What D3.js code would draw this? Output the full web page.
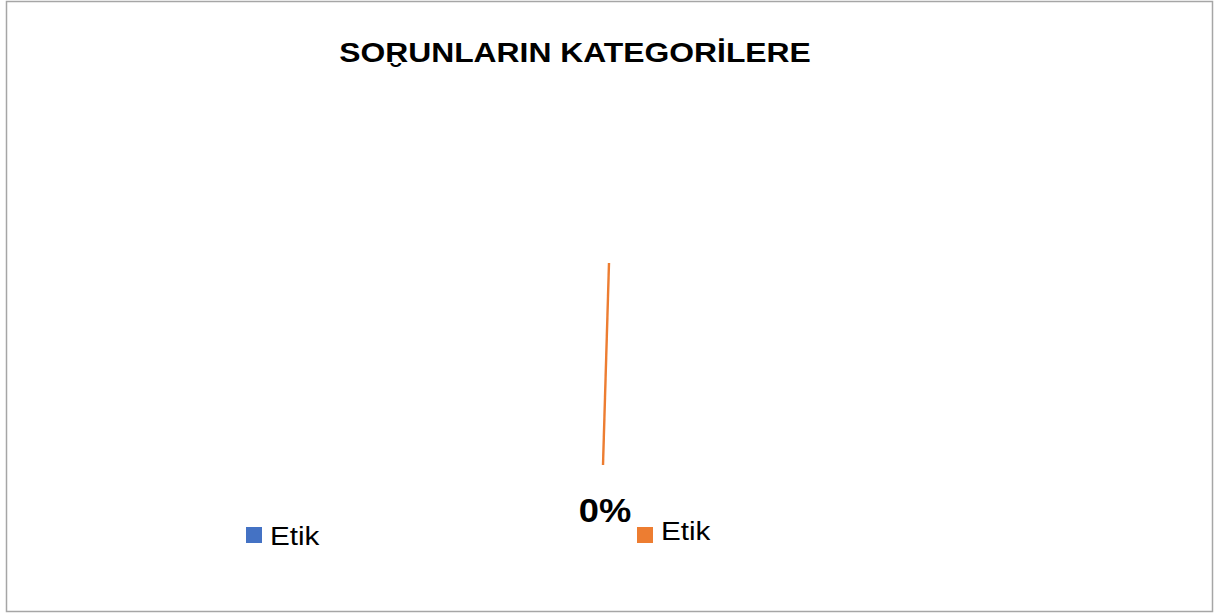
<html>
<head>
    <script src="https://d3js.org/d3.v7.min.js"></script>
    <style>
        body { margin: 0; background: #fff; }
        text { font-family: "Liberation Sans", Arial, sans-serif; }
    </style>
</head>
<body>
    <svg id="chart"></svg>
    <script>
        var Width = 1214, Height = 615;

        var title = "SOR\u032EUNLARIN KATEGOR\u0130LERE";
        var categories = ["Etik", "Etik"];
        var values = [0, 0];
        var dataLabels = ["0%"];
        var colors = ["#4472C4", "#ED7D31"];

        var cx = 606, cy = 364, radius = 101;
        var startDeg = 1.7;

        var svg = d3.select("#chart")
            .attr("width", Width)
            .attr("height", Height);

        // chart frame
        svg.append("rect")
            .attr("x", 6.5).attr("y", 1.5)
            .attr("width", 1206).attr("height", 610)
            .attr("fill", "#fff")
            .attr("stroke", "#a6a6a6")
            .attr("stroke-width", 1.5);

        // the source text is drawn a bit wide, hence the x scale
        svg.append("text")
            .attr("transform", "translate(575,62) scale(1.15,1)")
            .attr("text-anchor", "middle")
            .attr("font-size", 27.7)
            .attr("font-weight", "bold")
            .attr("fill", "#000")
            .text(title);

        var pie = d3.pie().sort(null)
            .startAngle(startDeg * Math.PI / 180)
            .endAngle(startDeg * Math.PI / 180 + 2 * Math.PI);
        var arcs = pie(values);

        var g = svg.append("g").attr("transform", "translate(" + cx + "," + cy + ")");

        // all values are zero, so the pie collapses to a thin sliver along its start angle
        var radial = d3.lineRadial();
        g.selectAll("path.slice")
            .data(arcs.filter(function(d, i){ return i == arcs.length - 1; }))
            .enter()
            .append("path")
                .attr("class", "slice")
                .attr("d", function(d){
                    return radial([[d.startAngle, radius], [d.startAngle + Math.PI, radius]]);
                })
                .attr("stroke", colors[1])
                .attr("stroke-width", 2.4)
                .attr("fill", "none");

        svg.selectAll("text.dlabel")
            .data(dataLabels)
            .enter()
            .append("text")
                .attr("class", "dlabel")
                .attr("transform", "translate(605,522) scale(1.1,1)")
                .attr("text-anchor", "middle")
                .attr("font-size", 33)
                .attr("font-weight", "bold")
                .text(function(d){ return d; });

        // legend
        var legendPos = [{x: 246, y: 527, ty: 545}, {x: 637, y: 527, ty: 540}];
        var legend = svg.selectAll("g.legend")
            .data(categories)
            .enter()
            .append("g")
                .attr("class", "legend");
        legend.append("rect")
            .attr("x", function(d, i){ return legendPos[i].x; })
            .attr("y", function(d, i){ return legendPos[i].y; })
            .attr("width", 16).attr("height", 16)
            .attr("fill", function(d, i){ return colors[i]; });
        legend.append("text")
            .attr("transform", function(d, i){
                return "translate(" + (legendPos[i].x + 24) + "," + legendPos[i].ty + ") scale(1.14,1)";
            })
            .attr("font-size", 26)
            .attr("fill", "#000")
            .text(function(d){ return d; });
    </script>
</body>
</html>
